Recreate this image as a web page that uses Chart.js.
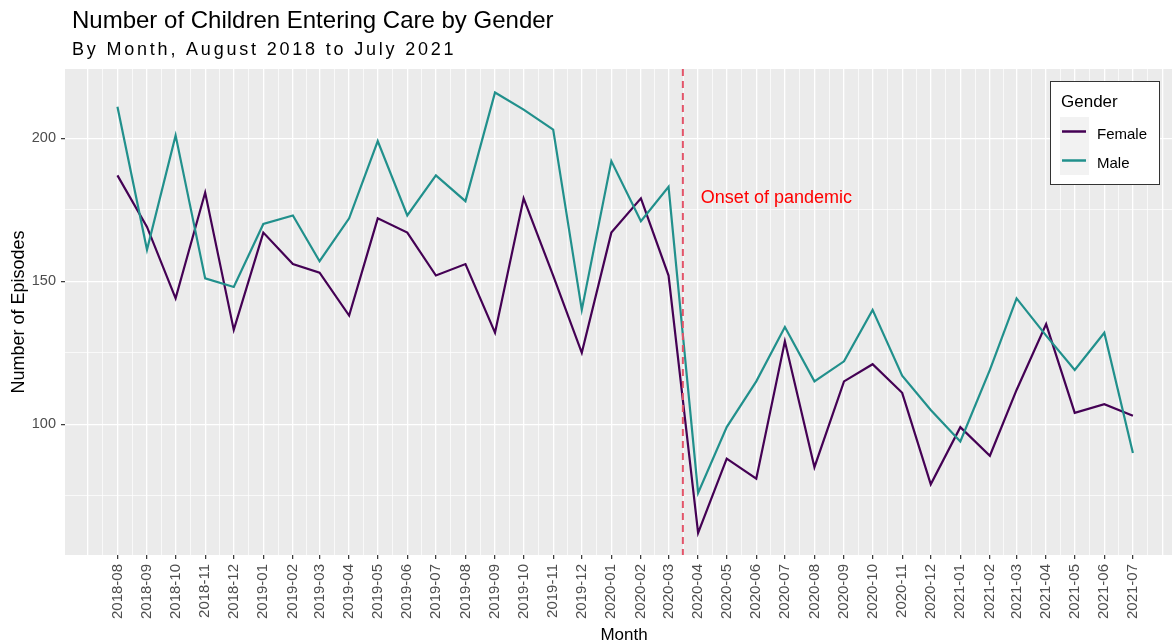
<!DOCTYPE html>
<html>
<head>
<meta charset="utf-8">
<script src="https://cdn.jsdelivr.net/npm/chart.js@4.4.1/dist/chart.umd.min.js"></script>
<style>
html, body { margin: 0; padding: 0; background: #fff; overflow: hidden; }
canvas { display: block; }
</style>
</head>
<body>
<canvas id="grafica" width="1172" height="644"></canvas>
<script>
const months = [
    '2018-08', '2018-09', '2018-10', '2018-11', '2018-12', '2019-01', '2019-02', '2019-03', '2019-04',
    '2019-05', '2019-06', '2019-07', '2019-08', '2019-09', '2019-10', '2019-11', '2019-12', '2020-01',
    '2020-02', '2020-03', '2020-04', '2020-05', '2020-06', '2020-07', '2020-08', '2020-09', '2020-10',
    '2020-11', '2020-12', '2021-01', '2021-02', '2021-03', '2021-04', '2021-05', '2021-06', '2021-07'
];
const female = [
    187, 169, 144, 181, 133, 167, 156, 153, 138,
    172, 167, 152, 156, 132, 179, 152, 125, 167,
    179, 152, 62, 88, 81, 129, 85, 115, 121,
    111, 79, 99, 89, 112, 135, 104, 107, 103
];
const male = [
    211, 161, 201, 151, 148, 170, 173, 157, 172,
    199, 173, 187, 178, 216, 210, 203, 140, 192,
    171, 183, 76, 99, 115, 134, 115, 122, 140,
    117, 105, 94, 119, 144, 131, 119, 132, 90
];
const yLabels = [100, 150, 200];
const yGrid = [75, 100, 125, 150, 175, 200];
const onsetDate = '2020-03-16';
const onsetText = 'Onset of pandemic';

// days since 2018-08-01
const dayOf = s => {
    const [y, m, d] = s.split('-').map(Number);
    return (Date.UTC(y, m - 1, d || 1) - Date.UTC(2018, 7, 1)) / 864e5;
};

const xMin = -55;
const xMax = 1106;

// month starts + midpoints for the grid
let monthStarts = [];
for (let i = 6; i <= 6 + 40; i++) {
    monthStarts.push((Date.UTC(2018, i, 1) - Date.UTC(2018, 7, 1)) / 864e5);
}
let xGrid = [];
monthStarts.forEach((v, i) => {
    xGrid.push(v);
    if (i < monthStarts.length - 1) xGrid.push((v + monthStarts[i + 1]) / 2);
});
xGrid = xGrid.filter(v => v >= xMin && v <= xMax);
const monthDays = months.map(dayOf);

const isMajorX = v => monthStarts.includes(v);

const fondo = {
    id: 'fondo',
    beforeDraw(chart) {
        const { ctx, chartArea: a } = chart;
        ctx.save();
        ctx.fillStyle = '#EBEBEB';
        ctx.fillRect(a.left, a.top, a.right - a.left, a.bottom - a.top);
        ctx.restore();
    },
    afterDatasetsDraw(chart) {
        const { ctx, chartArea: a } = chart;
        const x = chart.scales.x.getPixelForValue(dayOf(onsetDate));
        ctx.save();
        ctx.strokeStyle = '#E25469';
        ctx.lineWidth = 2;
        ctx.setLineDash([7, 5]);
        ctx.beginPath();
        ctx.moveTo(x, a.top);
        ctx.lineTo(x, a.bottom);
        ctx.stroke();
        ctx.restore();
    },
    afterDraw(chart) {
        const { ctx, chartArea: a } = chart;
        ctx.save();
        // titles
        ctx.fillStyle = '#000';
        ctx.textAlign = 'left';
        ctx.textBaseline = 'alphabetic';
        ctx.font = '24px "Liberation Sans", Arial, sans-serif';
        ctx.fillText('Number of Children Entering Care by Gender', 72, 28);
        ctx.font = '18px "Liberation Sans", Arial, sans-serif';
        ctx.letterSpacing = '2.8px';
        ctx.fillText('By Month, August 2018 to July 2021', 72, 55);
        ctx.letterSpacing = '0px';

        // axis titles
        ctx.font = '17px "Liberation Sans", Arial, sans-serif';
        ctx.textAlign = 'center';
        ctx.fillText('Month', (a.left + 1183) / 2, 640);
        ctx.save();
        ctx.translate(24, (a.top + a.bottom) / 2);
        ctx.rotate(-Math.PI / 2);
        ctx.font = '18px "Liberation Sans", Arial, sans-serif';
        ctx.fillText('Number of Episodes', 0, 0);
        ctx.restore();

        // annotation
        ctx.fillStyle = '#FF0000';
        ctx.textAlign = 'left';
        ctx.font = '18px "Liberation Sans", Arial, sans-serif';
        ctx.fillText(onsetText, chart.scales.x.getPixelForValue(dayOf(onsetDate)) + 18, 203);

        // legend
        ctx.fillStyle = '#fff';
        ctx.fillRect(1050, 81, 110, 104);
        ctx.strokeStyle = '#333';
        ctx.lineWidth = 1;
        ctx.strokeRect(1050.5, 81.5, 109, 103);
        ctx.fillStyle = '#000';
        ctx.font = '17px "Liberation Sans", Arial, sans-serif';
        ctx.fillText('Gender', 1061, 107);
        ctx.fillStyle = '#F2F2F2';
        ctx.fillRect(1060, 117, 29, 58);
        const keys = [['Female', '#440154', 131.5], ['Male', '#21908C', 160.5]];
        ctx.font = '15px "Liberation Sans", Arial, sans-serif';
        keys.forEach(([nombre, color, y]) => {
            ctx.strokeStyle = color;
            ctx.lineWidth = 2.5;
            ctx.beginPath();
            ctx.moveTo(1062, y);
            ctx.lineTo(1086, y);
            ctx.stroke();
            ctx.fillStyle = '#000';
            ctx.textBaseline = 'middle';
            ctx.fillText(nombre, 1097, y + 3);
        });
        ctx.restore();
    }
};

const ctx = document.getElementById('grafica').getContext('2d');

const myChart = new Chart(ctx, {
    type: 'line',
    data: {
        datasets: [{
            label: 'Female',
            data: monthDays.map((d, i) => ({ x: d, y: female[i] })),
            borderColor: '#440154',
            borderWidth: 2.2,
            pointRadius: 0,
            tension: 0,
            order: 2
        }, {
            label: 'Male',
            data: monthDays.map((d, i) => ({ x: d, y: male[i] })),
            borderColor: '#21908C',
            borderWidth: 2.2,
            pointRadius: 0,
            tension: 0,
            order: 1
        }]
    },
    options: {
        responsive: false,
        animation: false,
        devicePixelRatio: 1,
        layout: { padding: { top: 69, left: 0, right: 0, bottom: 0 } },
        plugins: {
            legend: { display: false },
            tooltip: { enabled: false }
        },
        scales: {
            x: {
                type: 'linear',
                min: xMin,
                max: xMax,
                afterBuildTicks: scale => {
                    scale.ticks = xGrid.map(v => ({ value: v }));
                },
                afterFit: scale => {
                    scale.height = 89;
                    scale.paddingLeft = 0;
                    scale.paddingRight = 0;
                },
                border: { display: false },
                grid: {
                    color: '#FFFFFF',
                    lineWidth: c => isMajorX(c.tick.value) ? 1.3 : 0.7,
                    tickLength: 4,
                    tickColor: c => monthDays.includes(c.tick.value) ? '#333333' : 'rgba(0,0,0,0)',
                    tickWidth: 1.2
                },
                ticks: {
                    autoSkip: false,
                    maxRotation: 90,
                    minRotation: 90,
                    padding: 5,
                    color: '#4D4D4D',
                    font: { family: '"Liberation Sans", Arial, sans-serif', size: 15 },
                    callback: v => {
                        const i = monthDays.indexOf(v);
                        return i >= 0 ? months[i] : '';
                    }
                }
            },
            y: {
                min: 54.3,
                max: 224.2,
                afterBuildTicks: scale => {
                    scale.ticks = yGrid.map(v => ({ value: v }));
                },
                afterFit: scale => {
                    scale.width = 65;
                    scale.paddingTop = 0;
                    scale.paddingBottom = 0;
                },
                border: { display: false },
                grid: {
                    color: '#FFFFFF',
                    lineWidth: c => yLabels.includes(c.tick.value) ? 1.3 : 0.7,
                    tickLength: 4,
                    tickColor: c => yLabels.includes(c.tick.value) ? '#333333' : 'rgba(0,0,0,0)',
                    tickWidth: 1.2
                },
                ticks: {
                    padding: 5,
                    color: '#4D4D4D',
                    font: { family: '"Liberation Sans", Arial, sans-serif', size: 14.5 },
                    callback: v => yLabels.includes(v) ? String(v) : ''
                }
            }
        }
    },
    plugins: [fondo]
});
</script>
</body>
</html>
